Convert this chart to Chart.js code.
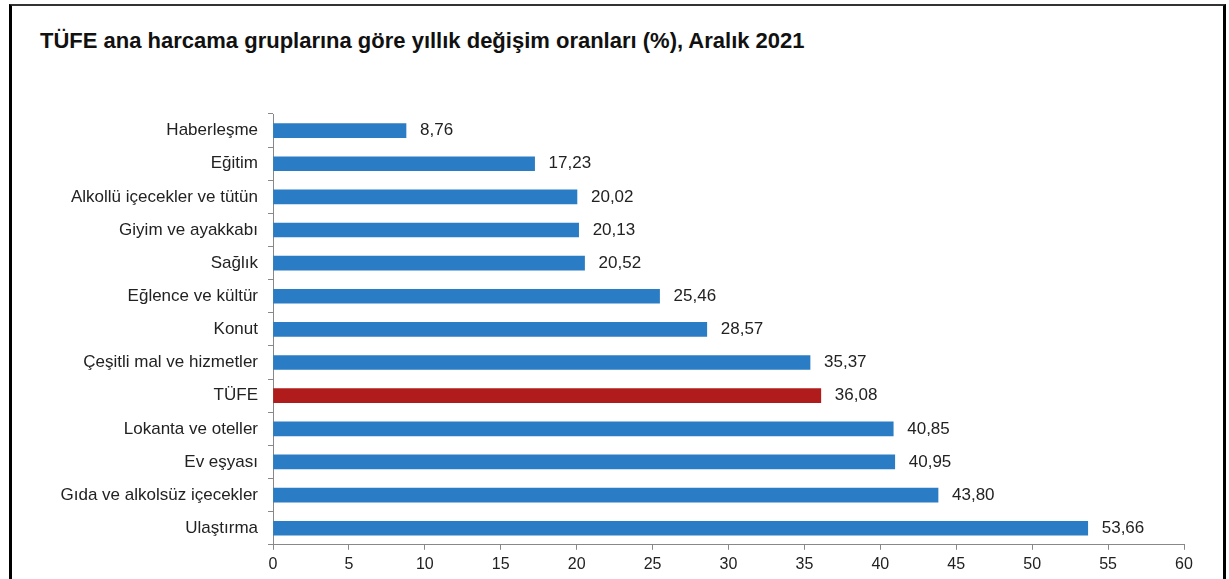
<!DOCTYPE html>
<html>
<head>
<meta charset="utf-8">
<script src="https://cdn.jsdelivr.net/npm/chart.js@4.4.0/dist/chart.umd.min.js"></script>
<style>
  html, body { margin:0; padding:0; background:#fff; }
  body { width:1229px; height:579px; position:relative; overflow:hidden; }
  #frame { position:absolute; left:9px; top:4px; width:1211px; height:600px;
           border-left:3px solid #000; border-right:3px solid #000; border-top:2px solid #333; }
  #title { position:absolute; left:40px; top:28px; font:bold 22px "Liberation Sans", Arial, sans-serif; color:#111; }
  #wrap { position:absolute; left:0; top:0; width:1229px; height:579px; }
</style>
</head>
<body>
<div id="frame"></div>
<div id="title">TÜFE ana harcama gruplarına göre yıllık değişim oranları (%), Aralık 2021</div>
<div id="wrap"><canvas id="chart"></canvas></div>
<script>
// categories and values (annual change %, Dec 2021)
const groups = ['Haberleşme','Eğitim','Alkollü içecekler ve tütün','Giyim ve ayakkabı','Sağlık',
  'Eğlence ve kültür','Konut','Çeşitli mal ve hizmetler','TÜFE','Lokanta ve oteller',
  'Ev eşyası','Gıda ve alkolsüz içecekler','Ulaştırma'];
const rates = [8.76,17.23,20.02,20.13,20.52,25.46,28.57,35.37,36.08,40.85,40.95,43.80,53.66];
const xTicks = [0,5,10,15,20,25,30,35,40,45,50,55,60];

const BLUE = '#2a7dc4', RED = '#b01c1c';
const colors = groups.map(g => g === 'TÜFE' ? RED : BLUE);
const fontFam = '"Liberation Sans", Arial, sans-serif';

// value labels to the right of each bar, comma decimal
const valueLabels = {
  id:'valueLabels',
  afterDatasetsDraw(chart){
    const ctx = chart.ctx;
    const meta = chart.getDatasetMeta(0);
    ctx.save();
    ctx.font = '17px ' + fontFam;
    ctx.fillStyle = '#222';
    ctx.textBaseline = 'middle';
    meta.data.forEach((bar,i)=>{
      ctx.fillText(rates[i].toFixed(2).replace('.',','), bar.x + 14, bar.y);
    });
    ctx.restore();
  }
};

new Chart(document.getElementById('chart'), {
  type:'bar',
  data:{ labels:groups, datasets:[{ data:rates, backgroundColor:colors, barThickness:14 }] },
  options:{
    indexAxis:'y',
    responsive:true, maintainAspectRatio:false, animation:false,
    layout:{ padding:{ top:114, bottom:0, left:0, right:45 } },
    plugins:{ legend:{display:false}, tooltip:{enabled:false} },
    scales:{
      x:{
        min:0, max:60,
        afterBuildTicks: s => { s.ticks = xTicks.map(v=>({value:v})); },
        grid:{ drawOnChartArea:false, drawTicks:true, tickLength:5, color:'#888' },
        border:{ color:'#888' },
        ticks:{ color:'#222', font:{ size:16, family:fontFam }, padding:5 }
      },
      y:{
        afterFit: s => { s.width = 273; },
        grid:{ drawOnChartArea:false, drawTicks:true, tickLength:5, color:'#888', offset:true },
        border:{ color:'#888' },
        ticks:{ color:'#222', font:{ size:17, family:fontFam }, padding:10 }
      }
    }
  },
  plugins:[valueLabels]
});
</script>
</body>
</html>
